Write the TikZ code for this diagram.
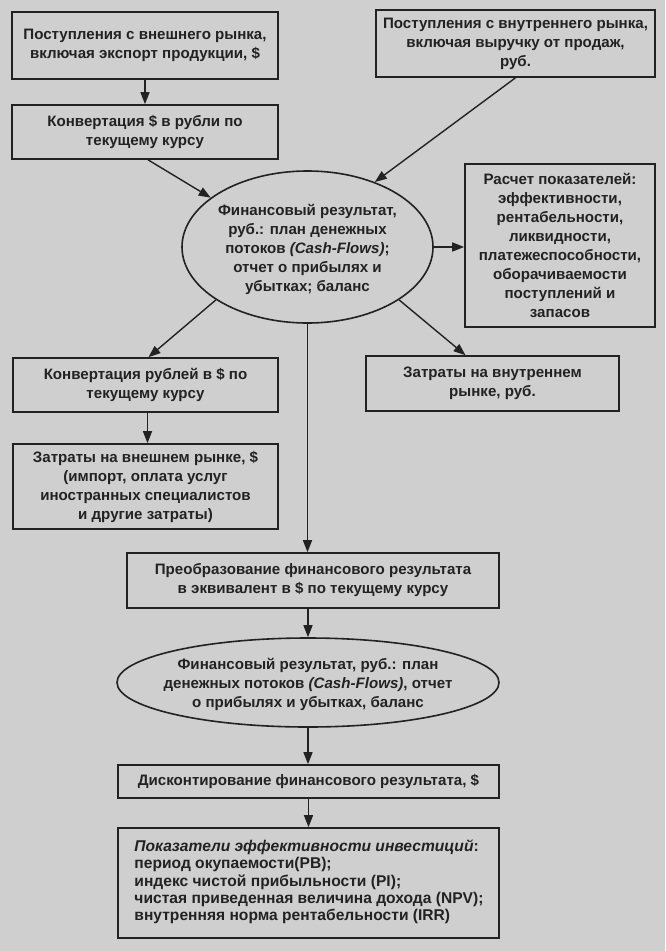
\documentclass[tikz,border=0pt]{standalone}
\usepackage{fontspec}
\setmainfont{Liberation Sans}
\usetikzlibrary{shapes.geometric,arrows.meta}
\definecolor{bgc}{HTML}{CFCFCF}
\definecolor{ink}{HTML}{222222}
\tikzset{
  box/.style={draw=ink, line width=1.6pt, fill=bgc, rectangle, inner sep=0pt, align=center, text=ink},
  oval/.style={draw=ink, line width=1.6pt, fill=bgc, ellipse, inner sep=0pt},
  txt/.style={inner sep=0pt, align=center, text=ink},
  arr/.style={draw=ink, line width=1.4pt, -{Triangle[length=12pt,width=9pt]}},
}
\begin{document}
\begin{tikzpicture}[x=1pt,y=-1pt,font=\fontsize{15.1}{19}\selectfont\bfseries]
\useasboundingbox (0,0) rectangle (665,951);
\fill[bgc] (0,0) rectangle (665,951);

\node[box, minimum width=266, minimum height=67] (b1) at (145,45.5)
  {Поступления с внешнего рынка,\\включая экспорт продукции, \$};
\node[box, minimum width=266, minimum height=54] (b2) at (145,132)
  {Конвертация \$ в рубли по\\текущему курсу};
\node[box, minimum width=279, minimum height=67] (b3) at (515.5,43.5)
  {Поступления с внутреннего рынка,\\включая выручку от продаж,\\руб.};
\node[oval, minimum width=251, minimum height=152] (e1) at (307.5,247) {};
\node[txt] (e1t) at (307.5,249)
  {Финансовый результат,\\руб.: план денежных\\потоков \textit{(Cash-Flows)};\\отчет о прибылях и\\убытках; баланс};
\node[box, minimum width=190, minimum height=163] (r) at (560,245.5)
  {Расчет показателей:\\эффективности,\\рентабельности,\\ликвидности,\\платежеспособности,\\оборачиваемости\\поступлений и\\запасов};
\node[box, minimum width=265, minimum height=54] (b4) at (145.5,385)
  {Конвертация рублей в \$ по\\текущему курсу};
\node[box, minimum width=265, minimum height=85] (b5) at (145.5,486.5)
  {Затраты на внешнем рынке, \$\\(импорт, оплата услуг\\иностранных специалистов\\и другие затраты)};
\node[box, minimum width=253, minimum height=55] (b6) at (492.5,383.5)
  {Затраты на внутреннем\\рынке, руб.};
\node[box, minimum width=372, minimum height=55] (b7) at (313,580.5)
  {Преобразование финансового результата\\в эквивалент в \$ по текущему курсу};
\node[oval, minimum width=382, minimum height=89] (e2) at (308,682.5) {};
\node[txt] (e2t) at (308,684)
  {Финансовый результат, руб.: план\\денежных потоков \textit{(Cash-Flows)}, отчет\\о прибылях и убытках, баланс};
\node[box, minimum width=381, minimum height=33] (b8) at (308.5,781.5)
  {Дисконтирование финансового результата, \$};
\node[box, minimum width=381, minimum height=110] (b9) at (308.5,883) {};
\node[txt, align=left, font=\fontsize{15.6}{17.3}\selectfont\bfseries] (b9t) at (309,882)
  {\textit{Показатели эффективности инвестиций}:\\период окупаемости(PB);\\индекс чистой прибыльности (PI);\\чистая приведенная величина дохода (NPV);\\внутренняя норма рентабельности (IRR)};

\draw[arr] (b1.south) -- (b2.north);
\draw[arr] ([xshift=3pt]b2.south) -- (e1.153);
\draw[arr] (b3.south) -- (e1.44);
\draw[arr] (e1.east) -- (e1.east -| r.west);
\draw[arr] (e1.210) -- ([xshift=3pt]b4.north);
\draw[arr] (e1.330) -- ([xshift=-27pt]b6.north);
\draw[arr] ([xshift=2pt]b4.south) -- ([xshift=2pt]b5.north);
\draw[arr] (e1.south) -- (e1.south |- b7.north);
\draw[arr] (e2.north |- b7.south) -- (e2.north);
\draw[arr] (e2.south) -- (e2.south |- b8.north);
\draw[arr] (b8.south) -- (b9.north);
\end{tikzpicture}
\end{document}
